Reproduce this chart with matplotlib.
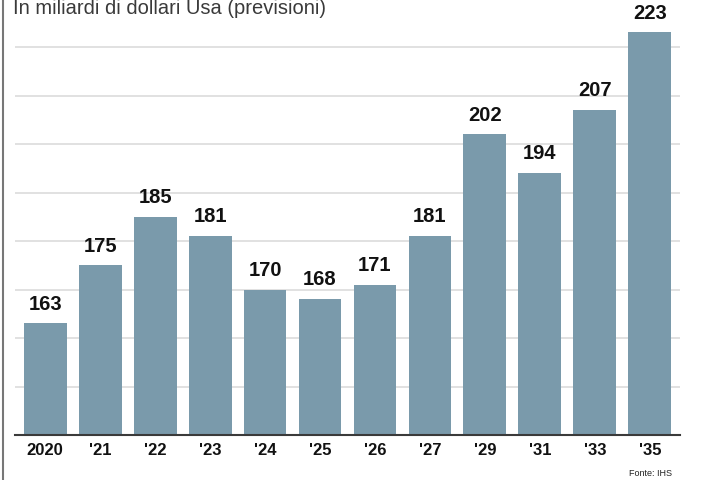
import matplotlib.pyplot as plt
from matplotlib.lines import Line2D

# Data
years = ["2020", "'21", "'22", "'23", "'24", "'25", "'26", "'27", "'29", "'31", "'33", "'35"]
values = [163, 175, 185, 181, 170, 168, 171, 181, 202, 194, 207, 223]

bar_color = '#7a9aab'
font = ['Liberation Sans', 'DejaVu Sans']

fig = plt.figure(figsize=(7.07, 4.8), dpi=100)
ax = fig.add_axes([15 / 707, 45 / 480, 665 / 707, 435 / 480])

x = range(len(values))
ax.bar(x, values, width=0.78, color=bar_color, zorder=2)

# Value labels above the bars
for i, v in zip(x, values):
    ax.annotate(str(v), (i, v), xytext=(0, 7), textcoords='offset points',
                ha='center', va='bottom', fontsize=14.5, fontweight='bold',
                family=font, color='#111111')

ax.set_xlim(-0.55, 11.55)
ax.set_ylim(140, 229.7)
ax.set_yticks(range(150, 230, 10))
ax.yaxis.grid(True, color='#d8d8d8', linewidth=1.1, zorder=0)
ax.tick_params(axis='y', left=False, labelleft=False)

ax.set_xticks(list(x))
ax.set_xticklabels(years, fontsize=12, fontweight='bold', family=font, color='#111111')
ax.tick_params(axis='x', length=0, pad=6)

for side in ['top', 'right', 'left']:
    ax.spines[side].set_visible(False)
ax.spines['bottom'].set_color('#3a3a3a')
ax.spines['bottom'].set_linewidth(1.5)

# Title (partially cut at the top in the original)
fig.text(13 / 707, 1 - 13.5 / 480, 'In miliardi di dollari Usa (previsioni)',
         fontsize=14.5, family=font, color='#3a3a3a', va='baseline', ha='left')

# Left frame line
fig.add_artist(Line2D([3 / 707, 3 / 707], [0, 1], color='#777777', linewidth=1.5,
                      transform=fig.transFigure))

fig.text(672 / 707, 1 - 476 / 480, 'Fonte: IHS', fontsize=6.5, family=font,
         color='#222222', ha='right', va='baseline')

plt.savefig('out.png', dpi=100)
plt.close()
